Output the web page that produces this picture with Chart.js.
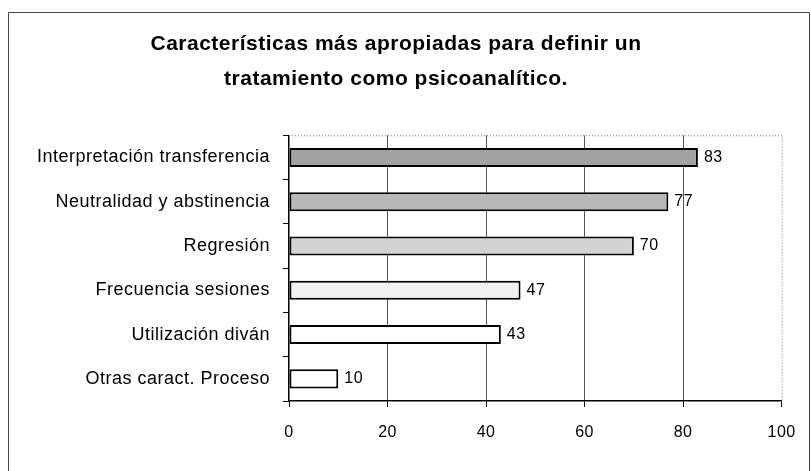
<!DOCTYPE html>
<html>
<head>
<meta charset="utf-8">
<script src="https://cdn.jsdelivr.net/npm/chart.js@4"></script>
<style>
  html, body { margin: 0; padding: 0; background: #fff; }
  #wrap { width: 811px; height: 471px; }
</style>
</head>
<body>
<div id="wrap"><canvas id="myChart" width="811" height="471"></canvas></div>
<script>
'use strict';

// chart data
let titleLines = ['Características más apropiadas para definir un', 'tratamiento como psicoanalítico.'];
let labels = [
  'Interpretación transferencia',
  'Neutralidad y abstinencia',
  'Regresión',
  'Frecuencia sesiones',
  'Utilización diván',
  'Otras caract. Proceso'
];
let values = [83, 77, 70, 47, 43, 10];
let barColors = ['#a2a2a2', '#b8b8b8', '#d2d2d2', '#f1f1f1', '#ffffff', '#ffffff'];
let xTicks = [0, 20, 40, 60, 80, 100];

const fontFamily = '"Liberation Sans", Arial, sans-serif';

// outer frame + dotted top/right border of plot
const framePlugin = {
  id: 'frame',
  beforeDraw(chart){
    let c = chart.ctx;
    c.save();
    c.fillStyle = '#fff';
    c.fillRect(0, 0, chart.width, chart.height);
    c.strokeStyle = '#444';
    c.lineWidth = 1;
    c.beginPath();
    c.moveTo(8.5, chart.height);
    c.lineTo(8.5, 12.5);
    c.lineTo(809.5, 12.5);
    c.lineTo(809.5, chart.height);
    c.stroke();
    c.restore();
    // the scanned text is spaced a bit wider than normal
    c.letterSpacing = '0.5px';
  },
  afterDraw(chart){
    let a = chart.chartArea;
    let c = chart.ctx;
    c.save();
    c.strokeStyle = '#777';
    c.lineWidth = 1;
    c.setLineDash([1, 2]);
    c.beginPath();
    c.moveTo(a.left, a.top + 0.5);
    c.lineTo(a.right + 0.5, a.top + 0.5);
    c.lineTo(a.right + 0.5, a.bottom);
    c.stroke();
    c.restore();
  }
};

// value labels right of bars
const valueLabels = {
  id: 'valueLabels',
  afterDatasetsDraw(chart){
    let c = chart.ctx;
    let meta = chart.getDatasetMeta(0);
    c.save();
    c.fillStyle = '#000';
    c.font = '16px ' + fontFamily;
    c.textAlign = 'left';
    c.textBaseline = 'middle';
    meta.data.forEach(function(bar, i){
      c.fillText(values[i], bar.x + 6, bar.y);
    });
    c.restore();
  }
};

const ctx = document.getElementById('myChart');

new Chart(ctx, {
  type: 'bar',
  data: {
    labels: labels,
    datasets: [{
      data: values,
      backgroundColor: barColors,
      borderColor: '#000',
      borderWidth: 2,
      borderSkipped: false,
      barPercentage: 0.43,
      categoryPercentage: 1
    }]
  },
  options: {
    indexAxis: 'y',
    responsive: false,
    animation: false,
    layout: {
      padding: { top: 12, left: 8, right: 27, bottom: 0 }
    },
    plugins: {
      legend: { display: false },
      tooltip: { enabled: false },
      title: {
        display: true,
        text: titleLines,
        color: '#000',
        font: { family: fontFamily, size: 21, weight: 'bold', lineHeight: 1.65 },
        padding: { top: 15, bottom: 39 }
      }
    },
    scales: {
      x: {
        min: 0,
        max: 100,
        afterBuildTicks(scale){
          scale.ticks = xTicks.map(function(v){ return { value: v }; });
        },
        afterFit(scale){
          scale.height = 70;
        },
        grid: {
          color(c){
            return (c.tick && (c.tick.value === 0 || c.tick.value === 100)) ? 'rgba(0,0,0,0)' : '#555';
          },
          tickColor: '#000',
          tickLength: 6,
          lineWidth: 1
        },
        border: { color: '#000', width: 1.5 },
        ticks: {
          color: '#000',
          padding: 16,
          font: { family: fontFamily, size: 16 }
        }
      },
      y: {
        afterFit(scale){
          scale.width = 281;
        },
        grid: {
          drawOnChartArea: false,
          tickColor: '#000',
          tickLength: 6,
          offset: true
        },
        border: { color: '#000', width: 1.5 },
        ticks: {
          color: '#000',
          padding: 13,
          font: { family: fontFamily, size: 18 }
        }
      }
    }
  },
  plugins: [framePlugin, valueLabels]
});
</script>
</body>
</html>
